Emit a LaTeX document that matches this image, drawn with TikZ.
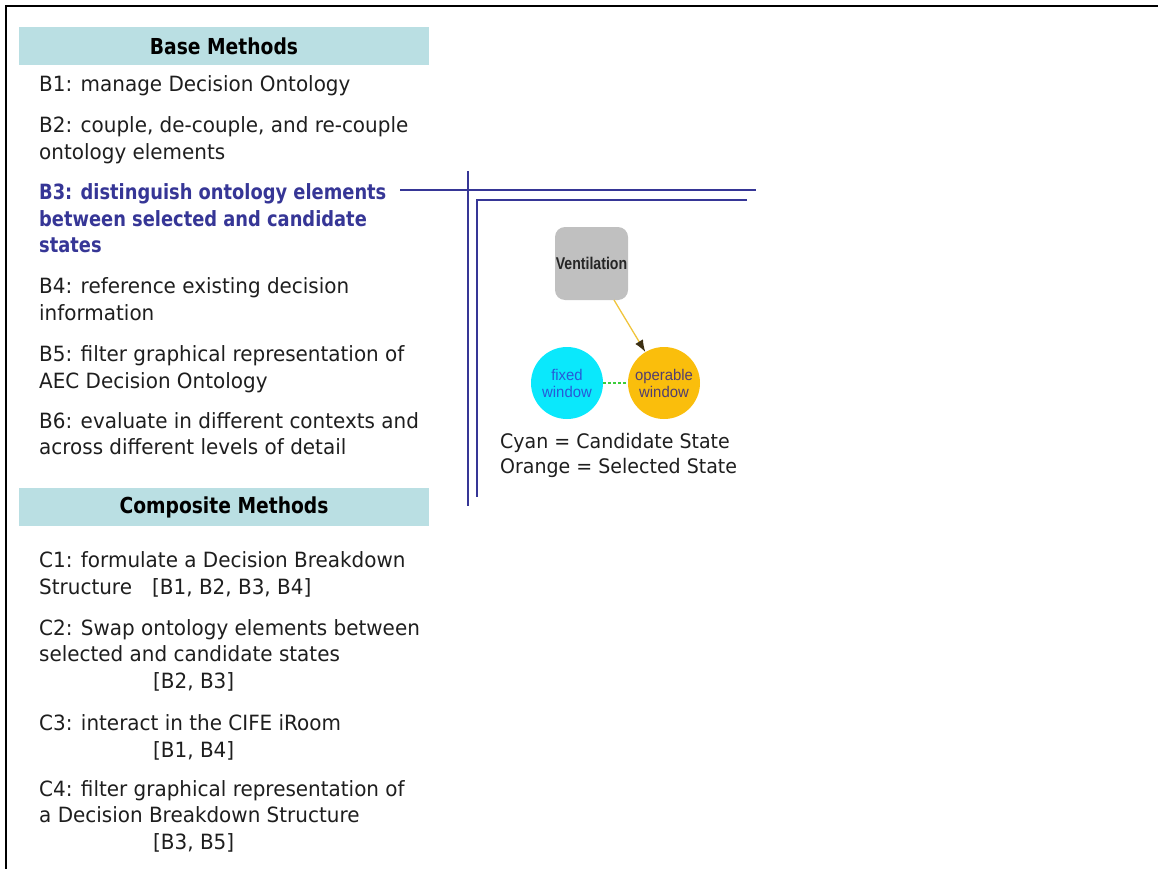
\documentclass[tikz,border=0pt]{standalone}
\usepackage{fontspec}
\setmainfont{DejaVu Sans}[FakeStretch=0.95,BoldFeatures={FakeStretch=0.85}]
\newfontfamily\ventfont{Liberation Sans}[FakeStretch=0.83]
\newfontfamily\statefont{Liberation Sans}[FakeStretch=0.96]
\usetikzlibrary{arrows.meta}

\definecolor{headfill}{RGB}{186,223,227}
\definecolor{slateblue}{RGB}{54,54,150}
\definecolor{ventgray}{RGB}{192,192,192}
\definecolor{candcyan}{RGB}{10,232,252}
\definecolor{selorange}{RGB}{250,190,12}
\definecolor{fixtext}{RGB}{40,90,215}
\definecolor{optext}{RGB}{80,62,112}
\definecolor{arrowyellow}{RGB}{240,196,60}
\definecolor{tipdark}{RGB}{60,48,20}
\definecolor{linkgreen}{RGB}{60,205,60}
\definecolor{txt}{RGB}{30,30,30}

\begin{document}
\begin{tikzpicture}[x=1pt,y=-1pt,
  line/.style={anchor=base west,inner sep=0pt,text=txt,font=\fontsize{21}{25}\selectfont},
  hiline/.style={line,text=slateblue,font=\fontsize{21}{25}\selectfont\bfseries},
  legend/.style={line,font=\fontsize{20}{24}\selectfont},
  headbox/.style={fill=headfill,draw=none,minimum width=410pt,minimum height=38pt,inner sep=0pt,
    text=black,font=\fontsize{22}{26}\selectfont\bfseries},
  frameline/.style={line width=2.6pt,black},
  guide/.style={line width=2.4pt,slateblue},
  ventbox/.style={fill=ventgray,draw=none,rounded corners=10pt,minimum width=73pt,minimum height=73pt,
    inner sep=0pt,font=\ventfont\fontsize{17}{19}\selectfont\bfseries,text=black!85},
  state/.style={circle,draw=none,minimum size=72pt,inner sep=0pt,align=center,
    font=\statefont\fontsize{15.5}{17}\selectfont}
]
\useasboundingbox (0,0) rectangle (1158,869);

% outer frame (top and left edges)
\coordinate (ftl) at (6,6);
\coordinate (ftr) at (1158,6);
\coordinate (fbl) at (6,869);
\draw[frameline] (ftr) -- (ftl) -- (fbl);

% ---- Base methods ----
\node[headbox] (basehead) at (224,46) {Base Methods};
\node[line] (b1)  at (39,92)  {B1: manage Decision Ontology};
\node[line] (b2a) at (39,133) {B2: couple, de-couple, and re-couple};
\node[line] (b2b) at (39,160) {ontology elements};
\node[hiline] (b3a) at (39,199) {B3: distinguish ontology elements};
\node[hiline] (b3b) at (39,226) {between selected and candidate};
\node[hiline] (b3c) at (39,252) {states};
\node[line] (b4a) at (39,293) {B4: reference existing decision};
\node[line] (b4b) at (39,320) {information};
\node[line] (b5a) at (39,361) {B5: filter graphical representation of};
\node[line] (b5b) at (39,388) {AEC Decision Ontology};
\node[line] (b6a) at (39,428) {B6: evaluate in different contexts and};
\node[line] (b6b) at (39,454) {across different levels of detail};

% ---- Composite methods ----
\node[headbox] (comphead) at (224,507) {Composite Methods};
\node[line] (c1a) at (39,567) {C1: formulate a Decision Breakdown};
\node[line] (c1b) at (39,594) {Structure};
\node[line] (c1r) at (152,594) {[B1, B2, B3, B4]};
\node[line] (c2a) at (39,635) {C2: Swap ontology elements between};
\node[line] (c2b) at (39,661) {selected and candidate states};
\node[line] (c2r) at (153,688) {[B2, B3]};
\node[line] (c3a) at (39,730) {C3: interact in the CIFE iRoom};
\node[line] (c3r) at (153,757) {[B1, B4]};
\node[line] (c4a) at (39,796) {C4: filter graphical representation of};
\node[line] (c4b) at (39,822) {a Decision Breakdown Structure};
\node[line] (c4r) at (153,849) {[B3, B5]};

% ---- callout lines from B3 ----
\coordinate (h1s) at (400,190);
\coordinate (h1e) at (756,190);
\coordinate (v1s) at (468,171);
\coordinate (v1e) at (468,506);
\coordinate (h2e) at (747,200);
\coordinate (c2)  at (477,200);
\coordinate (v2e) at (477,497);
\draw[guide] (h1s) -- (h1e);
\draw[guide] (v1s) -- (v1e);
\draw[guide] (h2e) -- (c2) -- (v2e);

% ---- example graph ----
\node[ventbox] (vent) at (591.5,263.5) {Ventilation};
\node[state,fill=candcyan,text=fixtext] (fixwin) at (567,383) {fixed\\window};
\node[state,fill=selorange,text=optext] (opwin) at (664,383) {operable\\window};
\coordinate (arrstart) at (614,300);
\draw[arrowyellow,line width=1.3pt,-{Latex[length=12pt,width=9pt,color=tipdark]}] (arrstart) -- (opwin);
\draw[linkgreen,line width=1.2pt,dash pattern=on 3pt off 2pt] (fixwin) -- (opwin);

\node[legend] (leg1) at (500,448) {Cyan = Candidate State};
\node[legend] (leg2) at (500,473) {Orange = Selected State};
\end{tikzpicture}
\end{document}
